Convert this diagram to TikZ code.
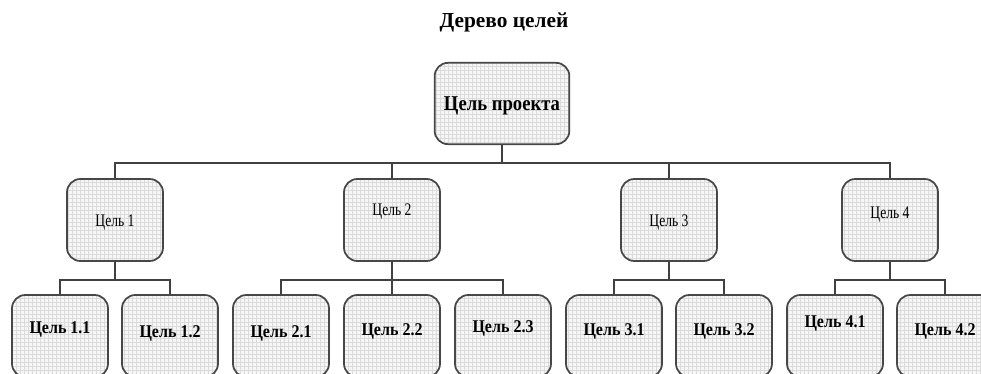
\documentclass[tikz,border=0pt]{standalone}
\usepackage{fontspec}
\usepackage{graphicx}
\setmainfont{Liberation Serif}
\usetikzlibrary{patterns}
% text set on a given baseline offset, stretched vertically
\newcommand{\goaltxt}[4]{\raisebox{#1}[0pt][0pt]{\scalebox{#2}[#3]{#4}}}
\begin{document}
\begin{tikzpicture}[x=0.75pt,y=-0.75pt,
  goal/.style={draw=black!72, line width=1.3pt, rounded corners=10pt,
    preaction={fill=gray!7}, pattern=grid, pattern color=gray!28,
    inner sep=0pt, text=black},
  rootgoal/.style={goal, minimum width=101pt, minimum height=61pt,
    font=\bfseries\fontsize{14}{16}\selectfont},
  maingoal/.style={goal, minimum width=72pt, minimum height=61.5pt,
    font=\fontsize{10.2}{12}\selectfont},
  subgoal/.style={goal, minimum width=72pt, minimum height=61.5pt,
    font=\bfseries\fontsize{12}{14}\selectfont},
  link/.style={draw=black!75, line width=1.1pt}
]
\useasboundingbox (0,0) rectangle (981,374);
\clip (0,0) rectangle (981,374);
\fill[white] (0,0) rectangle (981,374);

% title
\node[font=\bfseries\fontsize{16}{18}\selectfont] (title) at (504,22) {Дерево целей};

% root
\node[rootgoal] (root) at (502,103.5) {\goaltxt{-5.4pt}{1}{1.13}{Цель проекта}};

% first level
\node[maingoal] (g1) at (115,220) {\goaltxt{-5.2pt}{1}{1.3}{Цель 1}};
\node[maingoal] (g2) at (392,220) {\goaltxt{3.7pt}{1}{1.3}{Цель 2}};
\node[maingoal] (g3) at (669,220) {\goaltxt{-5.2pt}{1}{1.3}{Цель 3}};
\node[maingoal] (g4) at (890,220) {\goaltxt{1.5pt}{1}{1.3}{Цель 4}};

% second level
\node[subgoal] (g11) at (60,336)  {\goaltxt{2pt}{1}{1.12}{Цель 1.1}};
\node[subgoal] (g12) at (170,336) {\goaltxt{-1pt}{1}{1.12}{Цель 1.2}};
\node[subgoal] (g21) at (281,336) {\goaltxt{-1pt}{1}{1.12}{Цель 2.1}};
\node[subgoal] (g22) at (392,336) {\goaltxt{0.7pt}{1}{1.12}{Цель 2.2}};
\node[subgoal] (g23) at (503,336) {\goaltxt{2.6pt}{1}{1.12}{Цель 2.3}};
\node[subgoal] (g31) at (614,336) {\goaltxt{0.4pt}{1}{1.12}{Цель 3.1}};
\node[subgoal] (g32) at (724,336) {\goaltxt{0.4pt}{1}{1.12}{Цель 3.2}};
\node[subgoal] (g41) at (835,336) {\goaltxt{6.4pt}{1}{1.12}{Цель 4.1}};
\node[subgoal] (g42) at (945,336) {\goaltxt{0.4pt}{1}{1.12}{Цель 4.2}};

% connectors
\foreach \c in {g1,g2,g3,g4}
  \draw[link] (root.south) -- ++(0,18) -| (\c.north);
\foreach \p/\cs in {g1/{g11,g12}, g2/{g21,g22,g23}, g3/{g31,g32}, g4/{g41,g42}}
  \foreach \c in \cs
    \draw[link] (\p.south) -- ++(0,18) -| (\c.north);
\end{tikzpicture}
\end{document}
